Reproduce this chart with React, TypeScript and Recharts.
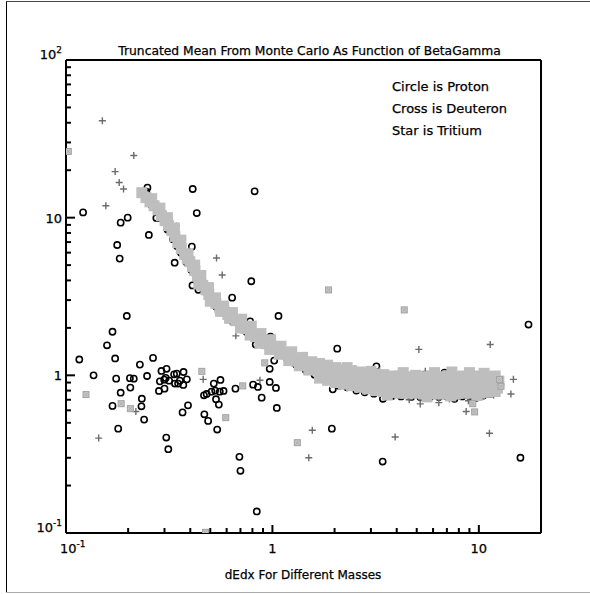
import { ScatterChart, Scatter, XAxis, YAxis, ReferenceLine } from "recharts";

// axis ticks (log decades + minors)
const xTicks = [0.1, 0.2, 0.3, 0.4, 0.5, 0.6, 0.7, 0.8, 0.9, 1, 2, 3, 4, 5, 6, 7, 8, 9, 10];
const yTicks = [
  0.1, 0.2, 0.3, 0.4, 0.5, 0.6, 0.7, 0.8, 0.9, 1, 2, 3, 4, 5, 6, 7, 8, 9, 10, 20, 30, 40, 50, 60, 70,
  80, 90, 100,
];
const tickLabels: Record<string, [string, string]> = {
  "0.1": ["10", "-1"],
  "1": ["1", ""],
  "10": ["10", ""],
  "100": ["10", "2"],
};

const title = "Truncated Mean From Monte Carlo As Function of BetaGamma";
const xTitle = "dEdx For Different Masses";
const legendLines = ["Circle is Proton", "Cross is Deuteron", "Star is Tritium"];

// proton (circles), scattered points
const protonOut = [
  [0.121, 10.8], [0.248, 15.5], [0.411, 15.2], [0.82, 14.7], [0.43, 10.7], [0.199, 10.0], [0.184, 9.3],
  [0.274, 9.96], [0.315, 8.5], [0.252, 7.77], [0.177, 6.71], [0.182, 5.5], [0.407, 6.55], [0.336, 5.18],
  [0.41, 3.72], [0.438, 3.49], [0.79, 3.95], [0.638, 3.11], [0.197, 2.38],
  [0.168, 1.89], [0.158, 1.55], [0.116, 1.26], [0.173, 1.28], [0.228, 1.17], [0.264, 1.29], [0.136, 1.0],
  [0.175, 0.953], [0.204, 0.96], [0.213, 0.953], [0.247, 0.99], [0.205, 0.836], [0.184, 0.776],
  [0.168, 0.64], [0.233, 0.711], [0.232, 0.636], [0.239, 0.524], [0.179, 0.459],
  [0.29, 1.066], [0.307, 1.1], [0.285, 0.916], [0.299, 0.939], [0.304, 0.963], [0.316, 0.925],
  [0.282, 0.796], [0.3, 0.823], [0.334, 1.015], [0.344, 1.025], [0.337, 0.886], [0.349, 0.886],
  [0.356, 0.925], [0.371, 1.05], [0.385, 0.943], [0.37, 0.869], [0.367, 0.582], [0.39, 0.645],
  [0.306, 0.403], [0.313, 0.34],
  [0.466, 0.747], [0.48, 0.762], [0.507, 0.788], [0.528, 0.8], [0.556, 0.788], [0.58, 0.796],
  [0.52, 0.886], [0.56, 0.935], [0.533, 0.705], [0.55, 0.652], [0.468, 0.566], [0.488, 0.514],
  [0.54, 0.453], [0.662, 0.823], [0.806, 0.873], [0.85, 0.844], [0.692, 0.304], [0.7, 0.248],
  [0.84, 0.137],
  [17.4, 2.1], [1.07, 2.38], [2.06, 1.476], [3.19, 1.14], [0.978, 1.76], [0.83, 1.57], [1.02, 1.24],
  [0.97, 1.1], [0.97, 0.908], [1.04, 0.832], [0.887, 0.722], [1.05, 0.621], [1.94, 0.459],
  [3.42, 0.284], [15.9, 0.3],
];

// proton points along the band (mostly hidden under the tritium band)
const protonBand = [
  [0.245, 14.6], [0.349, 6.9], [0.345, 6.6], [0.42, 4.5], [0.61, 2.54], [0.66, 2.27], [0.78, 2.2],
  [0.26, 12.0], [0.285, 10.0], [0.31, 8.4], [0.33, 7.3], [0.36, 6.0], [0.385, 5.2], [0.405, 4.65],
  [0.44, 3.85], [0.47, 3.4], [0.5, 3.0], [0.535, 2.72], [0.57, 2.5], [0.64, 2.2], [0.7, 2.0],
  [0.75, 1.88], [0.8, 1.76], [0.86, 1.64], [0.92, 1.55], [1.0, 1.45], [1.08, 1.36], [1.18, 1.27],
  [1.3, 1.17], [1.45, 1.08], [1.6, 1.01],
  [1.76, 0.95], [1.96, 0.815], [2.1, 0.86], [2.3, 0.84], [2.55, 0.8], [2.8, 0.78], [3.1, 0.765],
  [3.43, 0.71], [3.8, 0.74], [4.2, 0.735], [4.7, 0.73], [5.2, 0.73], [5.8, 0.73], [6.4, 0.73],
  [7.0, 0.735], [7.62, 0.71], [8.3, 0.735], [9.0, 0.74], [9.7, 0.72], [10.5, 0.745], [11.3, 0.76],
  [12.1, 0.823], [6.82, 1.04], [2.22, 1.1],
];

// deuteron (crosses)
const deuteronOut = [
  [0.15, 41.2], [0.213, 24.8], [0.173, 19.6], [0.181, 16.7], [0.19, 15.2], [0.156, 11.9], [0.294, 10.4],
  [0.343, 8.86], [0.536, 5.55], [0.571, 4.33], [0.665, 1.78], [0.462, 0.943], [0.218, 0.59],
  [0.144, 0.4], [0.75, 1.86], [0.87, 0.93], [1.46, 1.28], [5.12, 1.46], [11.35, 1.57], [14.7, 0.943],
  [14.3, 0.762], [6.4, 0.671], [5.2, 0.659], [8.68, 0.59], [1.56, 0.448], [3.93, 0.406],
  [11.25, 0.429], [1.5, 0.3],
];
const deuteronBand = [
  [0.262, 12.9], [0.318, 9.2], [0.395, 6.2], [0.47, 3.8], [0.62, 2.55], [0.9, 1.72], [1.12, 1.45],
  [2.5, 1.1], [3.3, 1.07], [4.6, 0.7], [5.5, 1.06], [7.2, 0.71], [8.9, 0.69], [10.6, 1.05], [11.8, 0.75],
];

// tritium (stars)
const tritiumOut = [
  [0.1026, 26.3], [0.125, 0.755], [0.185, 0.661], [0.205, 0.615], [0.455, 1.06], [0.594, 0.539],
  [0.718, 0.857], [4.35, 2.6], [0.918, 1.2], [1.32, 0.374], [12.6, 0.939], [12.8, 0.852], [9.34, 0.661],
  [9.54, 0.586], [1.87, 3.48], [0.474, 0.101],
];
const tritiumBand = [
  [0.233, 14.4], [0.244, 13.4], [0.255, 12.6], [0.267, 11.9], [0.279, 11.2], [0.29, 10.3], [0.302, 9.57],
  [0.314, 8.9], [0.326, 8.27], [0.337, 7.6], [0.348, 6.94], [0.362, 6.35], [0.376, 5.83], [0.387, 5.5],
  [0.398, 5.26], [0.41, 4.9], [0.421, 4.61], [0.433, 4.28], [0.445, 3.98], [0.46, 3.72], [0.476, 3.49],
  [0.492, 3.26], [0.509, 3.06], [0.532, 2.86], [0.556, 2.69], [0.582, 2.55], [0.608, 2.43],
  [0.636, 2.32], [0.664, 2.22], [0.703, 2.09], [0.743, 1.98], [0.786, 1.87], [0.83, 1.76],
  [0.878, 1.67], [0.928, 1.59], [0.98, 1.52], [1.04, 1.46], [1.12, 1.37], [1.21, 1.29], [1.31, 1.23],
  [1.43, 1.17], [1.56, 1.12],
  [0.26, 13.2], [0.285, 11.5], [0.31, 10.0], [0.335, 8.6], [0.36, 7.2], [0.39, 5.9], [0.42, 5.0],
  [0.45, 4.3], [0.49, 3.6], [0.53, 3.1], [0.58, 2.75], [0.64, 2.5], [0.71, 2.27], [0.79, 2.05],
  [0.88, 1.84], [0.98, 1.68], [1.1, 1.53], [1.24, 1.41], [1.4, 1.3], [1.55, 1.22],
  [0.44, 3.8], [0.5, 2.95], [0.56, 2.55], [0.62, 2.3], [0.7, 2.0], [0.78, 1.8], [0.87, 1.6],
  [0.97, 1.46], [1.08, 1.36], [1.2, 1.24], [1.35, 1.15], [1.5, 1.08],
  // flat part: top row
  [1.69, 1.19], [1.85, 1.16], [2.02, 1.12], [2.21, 1.09], [2.42, 1.07], [2.65, 1.05], [2.89, 1.03],
  [3.16, 1.02], [3.46, 1.01], [3.78, 0.99], [4.13, 0.99], [4.52, 0.98], [4.94, 1.0], [5.4, 0.98],
  [5.9, 0.99], [6.45, 0.98], [7.05, 0.99], [7.7, 0.98], [8.4, 0.99], [9.2, 0.98], [10.1, 0.99],
  [11.0, 0.98], [12.0, 0.99],
  // flat part: middle row
  [1.69, 1.07], [1.85, 1.04], [2.02, 1.01], [2.21, 0.98], [2.42, 0.96], [2.65, 0.94], [2.89, 0.92],
  [3.16, 0.9], [3.46, 0.89], [3.78, 0.88], [4.13, 0.87], [4.52, 0.87], [4.94, 0.87], [5.4, 0.86],
  [5.9, 0.86], [6.45, 0.86], [7.05, 0.86], [7.7, 0.86], [8.4, 0.87], [9.2, 0.87], [10.1, 0.87],
  [11.0, 0.87], [12.0, 0.88],
  // flat part: bottom row
  [1.69, 0.96], [1.85, 0.93], [2.02, 0.9], [2.21, 0.88], [2.42, 0.86], [2.65, 0.84], [2.89, 0.82],
  [3.16, 0.8], [3.46, 0.79], [3.78, 0.78], [4.13, 0.77], [4.52, 0.77], [4.94, 0.77], [5.4, 0.76],
  [5.9, 0.765], [6.45, 0.76], [7.05, 0.765], [7.7, 0.76], [8.4, 0.77], [9.2, 0.77], [10.1, 0.77],
  [11.0, 0.78], [12.0, 0.79],
  // ragged edges
  [2.3, 1.12], [3.0, 1.06], [4.3, 1.04], [6.1, 1.04], [7.4, 1.05], [9.0, 1.04], [10.6, 1.03],
  [3.6, 0.75], [5.6, 0.73], [7.3, 0.74], [9.8, 0.745], [11.6, 0.8], [12.5, 0.92], [12.3, 0.83],
];

const pts = (a: number[][]) => a.map(([x, y]) => ({ x, y }));

// tick marks drawn as tiny glyphs sitting on the bottom / left frame edges
const xTickMarks = xTicks.map((v) => ({ x: v, y: 0.1, len: tickLabels[String(v)] ? 8 : 5 }));
const yTickMarks = yTicks.map((v) => ({ x: 0.1, y: v, len: tickLabels[String(v)] ? 9 : 5 }));

const FONT = "DejaVu Sans";

function CircleMark(p: any) {
  return <circle cx={p.cx} cy={p.cy} r={3.1} fill="none" stroke="#000" strokeWidth={1.6} />;
}
function CrossMark(p: any) {
  return (
    <path
      d={`M${p.cx - 3.5},${p.cy}h7M${p.cx},${p.cy - 3.5}v7`}
      stroke="#6c6c6c"
      strokeWidth={1.4}
      fill="none"
    />
  );
}
function StarMark(p: any) {
  return (
    <g>
      <rect x={p.cx - 3} y={p.cy - 3} width={6} height={6} fill="#c6c6c6" stroke="#a2a2a2" strokeWidth={1} />
      <path d={`M${p.cx - 2},${p.cy - 2}L${p.cx + 2},${p.cy + 2}M${p.cx + 2},${p.cy - 2}L${p.cx - 2},${p.cy + 2}`} stroke="#a8a8a8" strokeWidth={0.8} />
    </g>
  );
}
function BandMark(p: any) {
  return <rect x={p.cx - 5.5} y={p.cy - 5.5} width={11} height={11} fill="#bebebe" />;
}
function XTickMark(p: any) {
  const len = p.payload && p.payload.len ? p.payload.len : 5;
  return <path d={`M${p.cx},${p.cy}v${-len}`} stroke="#000" strokeWidth={2} fill="none" />;
}
function YTickMark(p: any) {
  const len = p.payload && p.payload.len ? p.payload.len : 5;
  return <path d={`M${p.cx},${p.cy}h${len}`} stroke="#000" strokeWidth={2} fill="none" />;
}

function XTick({ x, y, payload }: any) {
  const lab = tickLabels[String(payload.value)];
  if (!lab) return <g />;
  return (
    <text
      x={lab[1] ? Number(x) - 6 : x}
      y={Number(y) + 20}
      textAnchor={lab[1] ? "start" : "middle"}
      fontFamily={FONT}
      fontSize={13}
      fill="#000"
      stroke="#000"
      strokeWidth={0.25}
    >
      {lab[0]}
      {lab[1] && (
        <tspan dy={-6} fontSize={9}>
          {lab[1]}
        </tspan>
      )}
    </text>
  );
}

function YTick({ x, y, payload }: any) {
  const lab = tickLabels[String(payload.value)];
  if (!lab) return <g />;
  return (
    <text
      x={Number(x) - 4}
      y={lab[1] ? Number(y) - 1 : Number(y) + 5}
      textAnchor="end"
      fontFamily={FONT}
      fontSize={13}
      fill="#000"
      stroke="#000"
      strokeWidth={0.25}
    >
      {lab[0]}
      {lab[1] && (
        <tspan dy={-6} fontSize={9}>
          {lab[1]}
        </tspan>
      )}
    </text>
  );
}

export default function App() {
  return (
    <div style={{ position: "absolute", left: 0, top: 0, width: 590, height: 594, background: "#fff" }}>
      <svg
        width={590}
        height={594}
        style={{ position: "absolute", left: 0, top: 0, pointerEvents: "none" }}
      >
        {/* page border */}
        <line x1={6.5} x2={6.5} y1={1} y2={592} stroke="#000" strokeWidth={1} />
        <line x1={6} x2={590} y1={1.5} y2={1.5} stroke="#444" strokeWidth={1} />
        <line x1={6} x2={590} y1={592.5} y2={592.5} stroke="#aaa" strokeWidth={1} />
        <text x={309.5} y={55} textAnchor="middle" fontFamily={FONT} fontSize={12.3} fill="#000" stroke="#000" strokeWidth={0.25}>
          {title}
        </text>
        {legendLines.map((t, i) => (
          <text key={t} x={392} y={91 + i * 22} fontFamily={FONT} fontSize={13} fill="#000" stroke="#000" strokeWidth={0.25}>
            {t}
          </text>
        ))}
        <text x={303} y={579} textAnchor="middle" fontFamily={FONT} fontSize={12} fill="#000" stroke="#000" strokeWidth={0.25}>
          {xTitle}
        </text>
      </svg>
      <ScatterChart width={590} height={594} margin={{ top: 60, right: 49, bottom: 36, left: 26 }}>
        <XAxis
          dataKey="x"
          type="number"
          scale="log"
          domain={[0.1, 20]}
          allowDataOverflow
          ticks={xTicks}
          interval={0}
          height={25}
          tickSize={0}
          tickMargin={0}
          axisLine={{ stroke: "#000", strokeWidth: 2 }}
          tickLine={false}
          tick={<XTick />}
        />
        <YAxis
          dataKey="y"
          type="number"
          scale="log"
          domain={[0.1, 100]}
          allowDataOverflow
          ticks={yTicks}
          interval={0}
          width={40}
          tickSize={0}
          tickMargin={0}
          axisLine={{ stroke: "#000", strokeWidth: 2 }}
          tickLine={false}
          tick={<YTick />}
        />
        <ReferenceLine y={100} stroke="#000" strokeWidth={2} ifOverflow="visible" />
        <ReferenceLine x={20} stroke="#000" strokeWidth={2} ifOverflow="visible" />
        <Scatter data={pts(protonOut)} shape={CircleMark} isAnimationActive={false} />
        <Scatter data={pts(protonBand)} shape={CircleMark} isAnimationActive={false} />
        <Scatter data={pts(deuteronOut)} shape={CrossMark} isAnimationActive={false} />
        <Scatter data={pts(deuteronBand)} shape={CrossMark} isAnimationActive={false} />
        <Scatter data={pts(tritiumBand)} shape={BandMark} isAnimationActive={false} />
        <Scatter data={pts(tritiumOut)} shape={StarMark} isAnimationActive={false} />
        <Scatter data={xTickMarks} shape={XTickMark} isAnimationActive={false} />
        <Scatter data={yTickMarks} shape={YTickMark} isAnimationActive={false} />
      </ScatterChart>
    </div>
  );
}
